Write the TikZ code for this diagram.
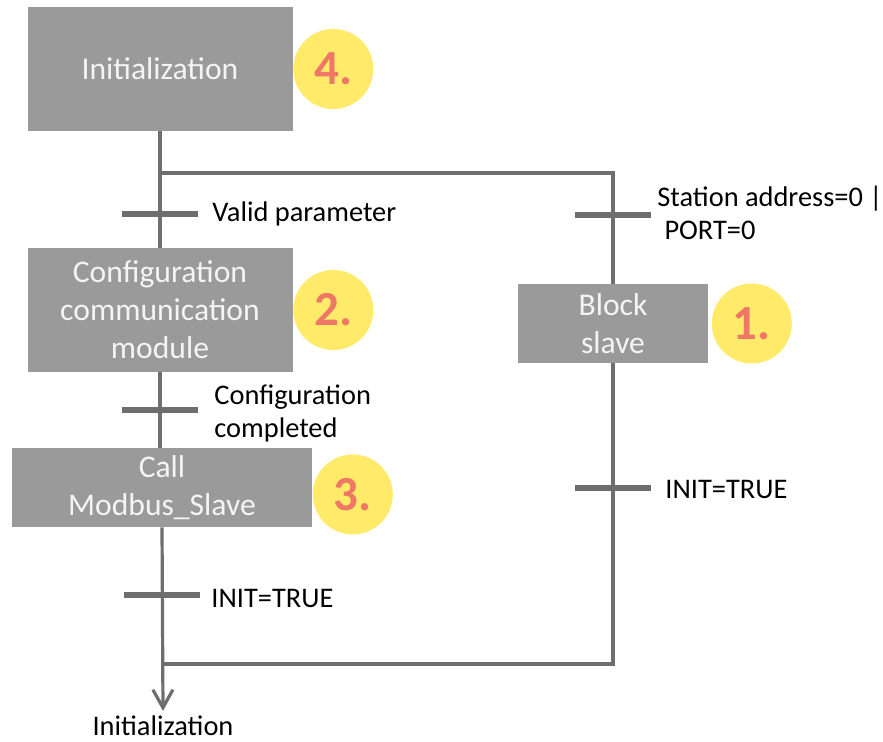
\documentclass[tikz,border=0pt]{standalone}
\usepackage{fontspec}
\setmainfont{Carlito}
\usepackage{xcolor}
\usetikzlibrary{arrows.meta, positioning}

\definecolor{boxgray}{HTML}{9A9A9A}
\definecolor{boxtext}{HTML}{F4F4F4}
\definecolor{linegray}{HTML}{6E6E6E}
\definecolor{badgeyellow}{HTML}{FFEA6A}
\definecolor{badgered}{HTML}{EE7766}

\begin{document}
\begin{tikzpicture}[x=0.5pt,y=-0.5pt,
    stepbox/.style={fill=boxgray, text=boxtext, align=center, inner sep=0pt,
      font=\fontsize{15.8}{19}\selectfont},
    badge/.style={circle, fill=badgeyellow, text=badgered, minimum size=40pt,
      inner sep=0pt, font=\fontsize{24.5}{24.5}\selectfont\bfseries},
    wire/.style={draw=linegray, line width=1.6pt},
    bar/.style={draw=linegray, line width=3pt},
    cond/.style={anchor=west, inner sep=0pt, align=left,
      font=\fontsize{14.2}{16.5}\selectfont}]

  \useasboundingbox (0,0) rectangle (883,742);

  \def\half{38}

  \node[stepbox, minimum width=132.5pt, minimum height=62pt] (init) at (160,69) {Initialization};
  \node[stepbox, minimum width=132.5pt, minimum height=62pt] (cfg) at (160,310) {Configuration\\communication\\module};
  \node[stepbox, minimum width=150pt, minimum height=39.5pt] (call) at (162,487.5) {Call\\Modbus\_Slave};
  \node[stepbox, minimum width=95pt, minimum height=39.5pt] (block) at (613,323.5) {Block\\slave};

  \node[badge, right=0pt of init] (n4) {4.};
  \node[badge, right=0pt of cfg] (n2) {2.};
  \node[badge, right=0pt of call, yshift=-3.5pt] (n3) {3.};
  \node[badge, right=1.5pt of block] (n1) {1.};

  \coordinate (split) at (160,173);
  \coordinate (turn) at (613,173);
  \coordinate (corner) at (613,664);
  \coordinate (join) at (162,664);

  \coordinate (t1) at (160,214);
  \coordinate (t2) at (160,410);
  \coordinate (t3) at (162,595);
  \coordinate (t4) at (613,215);
  \coordinate (t5) at (613,488);

  \node[cond] (c1) at (212,214) {Valid parameter};
  \node[cond] (c2) at (214,413) {Configuration\\completed};
  \node[cond] (c3) at (211,598) {INIT=TRUE};
  \node[cond] (c4) at (657,213) {Station address=0 |\\\hspace*{0.25em}PORT=0};
  \node[cond] (c5) at (665,489) {INIT=TRUE};

  \node[anchor=north, inner sep=2pt, font=\fontsize{14.2}{16.5}\selectfont] (fin) at (163,711) {Initialization};

  \draw[wire] (init.south) -- (cfg.north);
  \draw[wire] (cfg.south) -- (cfg.south |- call.north);
  \draw[wire, -{Straight Barb[length=9pt, width=10pt]}] (call.south) -- (fin.north);

  \draw[wire] (split) -- (turn) -- (block.north);
  \draw[wire] (block.south) -- (corner) -- (join);

  \draw[bar] (t1) +(-\half,0) -- +(\half,0);
  \draw[bar] (t2) +(-\half,0) -- +(\half,0);
  \draw[bar] (t3) +(-\half,0) -- +(\half,0);
  \draw[bar] (t4) +(-\half,0) -- +(\half,0);
  \draw[bar] (t5) +(-\half,0) -- +(\half,0);
\end{tikzpicture}
\end{document}
